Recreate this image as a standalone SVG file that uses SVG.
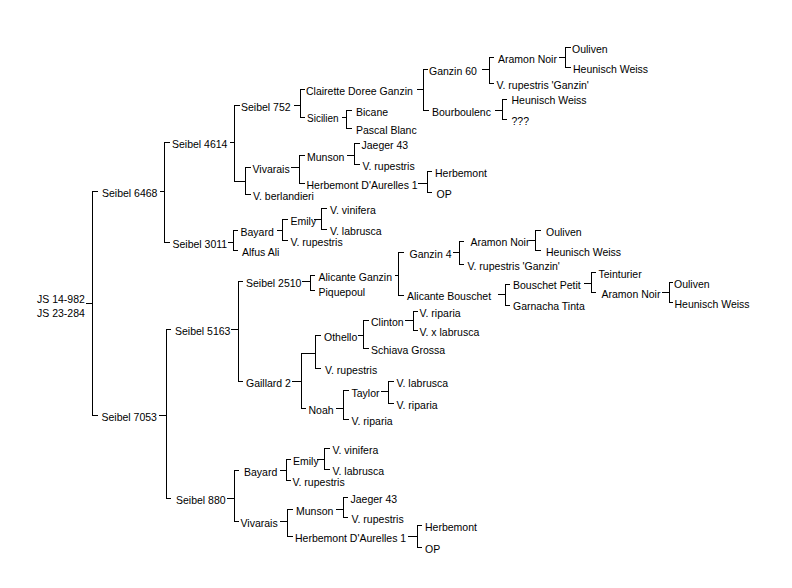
<svg xmlns="http://www.w3.org/2000/svg" width="792" height="588" viewBox="0 0 792 588">
<style>
text{font-family:"Liberation Sans",Arial,sans-serif;font-size:10.5px;fill:#000}
text.s{font-size:10px}
#connectors path{fill:none;stroke:#000;stroke-width:1;shape-rendering:crispEdges}
</style>
<rect width="792" height="588" fill="#fff"/>
<g id="connectors">
<path d="M86,303.5H93M92.5,191V416M92,191.5H98M92,415.5H98"/>
<path d="M160,191.5H165M164.5,142V243M164,142.5H170M164,242.5H170"/>
<path d="M230,142.5H235M234.5,105V182M234,105.5H240M234,181.5H246"/>
<path d="M245.5,167V195M245,167.5H251M245,194.5H251"/>
<path d="M294,105.5H301M300.5,89V118M300,89.5H305M300,117.5H305"/>
<path d="M417,89.5H424M423.5,69V111M423,69.5H428M423,110.5H429"/>
<path d="M482,69.5H490M489.5,57V84M489,57.5H494M489,83.5H494"/>
<path d="M559,57.5H566M565.5,47V68M565,47.5H571M565,67.5H571"/>
<path d="M495,110.5H503M502.5,99V120M502,99.5H507M502,119.5H507"/>
<path d="M342,117.5H347M346.5,110V129M346,110.5H352M346,128.5H352"/>
<path d="M291,167.5H300M299.5,155V184M299,155.5H305M299,183.5H305"/>
<path d="M347,155.5H355M354.5,143V165M354,143.5H360M354,164.5H360"/>
<path d="M418,183.5H428M427.5,171V193M427,171.5H432M427,192.5H432"/>
<path d="M228,242.5H234M233.5,230V251M233,230.5H238M233,250.5H238"/>
<path d="M277,230.5H283M282.5,219V241M282,219.5H288M282,240.5H288"/>
<path d="M314,219.5H322M321.5,208V230M321,208.5H327M321,229.5H327"/>
<path d="M159,415.5H167M166.5,329V499M166,329.5H171M166,498.5H171"/>
<path d="M231,329.5H239M238.5,281V382M238,281.5H243M238,381.5H243"/>
<path d="M302,281.5H311M310.5,275V291M310,275.5H315M310,290.5H315"/>
<path d="M395,275.5H399M398.5,252V296M398,252.5H404M398,295.5H404"/>
<path d="M453,252.5H460M459.5,241V265M459,241.5H464M459,264.5H464"/>
<path d="M529,240.5H536M535.5,230V251M535,230.5H541M535,250.5H541"/>
<path d="M498,294.5H506M505.5,284V306M505,284.5H510M505,305.5H510"/>
<path d="M584,283.5H592M591.5,272V293M591,272.5H596M591,292.5H596"/>
<path d="M662,292.5H670M669.5,282V303M669,282.5H673M669,302.5H673"/>
<path d="M292,381.5H302M301.5,353V409M301,353.5H316M301,408.5H306"/>
<path d="M315.5,335V369M315,335.5H321M315,368.5H321"/>
<path d="M358,335.5H364M363.5,320V349M363,320.5H369M363,348.5H369"/>
<path d="M405,320.5H414M413.5,311V331M413,311.5H418M413,330.5H418"/>
<path d="M336,408.5H344M343.5,390V420M343,390.5H349M343,419.5H349"/>
<path d="M381,391.5H389M388.5,381V404M388,381.5H394M388,403.5H394"/>
<path d="M227,498.5H235M234.5,470V522M234,470.5H239M234,521.5H239"/>
<path d="M280,470.5H287M286.5,459V481M286,459.5H291M286,480.5H291"/>
<path d="M317,459.5H325M324.5,448V470M324,448.5H330M324,469.5H330"/>
<path d="M280,521.5H288M287.5,509V537M287,509.5H293M287,536.5H293"/>
<path d="M336,509.5H344M343.5,497V518M343,497.5H348M343,517.5H348"/>
<path d="M408,536.5H418M417.5,525V548M417,525.5H422M417,547.5H422"/>
</g>
<g id="n-root"><text x="37" y="303">JS 14-982</text><text x="37" y="316.5">JS 23-284</text></g>
<g id="n-s6468"><text x="102" y="196.5">Seibel 6468</text></g>
<g id="n-s4614"><text x="172" y="147.5">Seibel 4614</text></g>
<g id="n-s752"><text x="241" y="110.5">Seibel 752</text></g>
<g id="n-cdg"><text x="306" y="94.5">Clairette Doree Ganzin</text></g>
<g id="n-g60"><text x="429" y="74.5">Ganzin 60</text></g>
<g id="n-an1"><text x="498" y="62.5">Aramon Noir</text></g>
<g id="n-ou1"><text x="572" y="52.5">Ouliven</text></g>
<g id="n-hw1"><text x="573" y="72.5">Heunisch Weiss</text></g>
<g id="n-vrg1"><text x="496.5" y="88.5">V. rupestris 'Ganzin'</text></g>
<g id="n-bourb"><text x="432" y="115.5">Bourboulenc</text></g>
<g id="n-hw2"><text x="511.5" y="103.5">Heunisch Weiss</text></g>
<g id="n-q"><text x="511.5" y="124.5">???</text></g>
<g id="n-sic"><text class="s" x="307" y="122">Sicilien</text></g>
<g id="n-bic"><text x="356" y="115.5">Bicane</text></g>
<g id="n-pb"><text x="356" y="133.5">Pascal Blanc</text></g>
<g id="n-viv1"><text x="252.5" y="172.5">Vivarais</text></g>
<g id="n-mun1"><text x="307" y="160.5">Munson</text></g>
<g id="n-j431"><text x="361.5" y="148.5">Jaeger 43</text></g>
<g id="n-vr1"><text x="362.5" y="169.5">V. rupestris</text></g>
<g id="n-hda1"><text x="306.5" y="188.5">Herbemont D'Aurelles 1</text></g>
<g id="n-hb1"><text x="435" y="176.5">Herbemont</text></g>
<g id="n-op1"><text x="436.5" y="197.5">OP</text></g>
<g id="n-vb"><text x="253" y="199.5">V. berlandieri</text></g>
<g id="n-s3011"><text x="172.5" y="247.5">Seibel 3011</text></g>
<g id="n-bay1"><text x="240.5" y="235.5">Bayard</text></g>
<g id="n-em1"><text x="290.5" y="224.5">Emily</text></g>
<g id="n-vv1"><text x="330" y="213.5">V. vinifera</text></g>
<g id="n-vl1"><text x="330" y="234.5">V. labrusca</text></g>
<g id="n-vr2"><text x="290.5" y="245.5">V. rupestris</text></g>
<g id="n-aa"><text x="242" y="255.5">Alfus Ali</text></g>
<g id="n-s7053"><text x="101.5" y="420.5">Seibel 7053</text></g>
<g id="n-s5163"><text x="175" y="334.5">Seibel 5163</text></g>
<g id="n-s2510"><text x="246" y="286.5">Seibel 2510</text></g>
<g id="n-ag"><text x="318.5" y="280.5">Alicante Ganzin</text></g>
<g id="n-g4"><text x="409.5" y="257.5">Ganzin 4</text></g>
<g id="n-an2"><text x="470.5" y="245.5">Aramon Noir</text></g>
<g id="n-ou2"><text x="546" y="235.5">Ouliven</text></g>
<g id="n-hw3"><text x="546" y="255.5">Heunisch Weiss</text></g>
<g id="n-vrg2"><text x="467.5" y="269.5">V. rupestris 'Ganzin'</text></g>
<g id="n-ab"><text x="407" y="299.5">Alicante Bouschet</text></g>
<g id="n-bp"><text x="513" y="288.5">Bouschet Petit</text></g>
<g id="n-tein"><text x="598.5" y="277.5">Teinturier</text></g>
<g id="n-an3"><text x="601.5" y="297.5">Aramon Noir</text></g>
<g id="n-ou3"><text x="674" y="287.5">Ouliven</text></g>
<g id="n-hw4"><text x="674.5" y="307.5">Heunisch Weiss</text></g>
<g id="n-gt"><text x="513" y="309.5">Garnacha Tinta</text></g>
<g id="n-pq"><text x="318.5" y="295.5">Piquepoul</text></g>
<g id="n-g2"><text x="246" y="386.5">Gaillard 2</text></g>
<g id="n-oth"><text x="324" y="340.5">Othello</text></g>
<g id="n-cli"><text x="371" y="325.5">Clinton</text></g>
<g id="n-vrp1"><text x="419.5" y="316.5">V. riparia</text></g>
<g id="n-vxl"><text x="419.5" y="335.5">V. x labrusca</text></g>
<g id="n-sg"><text x="371" y="353.5">Schiava Grossa</text></g>
<g id="n-vr3"><text x="325" y="373.5">V. rupestris</text></g>
<g id="n-noah"><text x="308.5" y="413.5">Noah</text></g>
<g id="n-tay"><text x="351.5" y="396.5">Taylor</text></g>
<g id="n-vl2"><text x="396.5" y="386.5">V. labrusca</text></g>
<g id="n-vrp2"><text x="396.5" y="408.5">V. riparia</text></g>
<g id="n-vrp3"><text x="351.5" y="424.5">V. riparia</text></g>
<g id="n-s880"><text x="176" y="503.5">Seibel 880</text></g>
<g id="n-bay2"><text x="244" y="475.5">Bayard</text></g>
<g id="n-em2"><text x="293" y="464.5">Emily</text></g>
<g id="n-vv2"><text x="332.5" y="453.5">V. vinifera</text></g>
<g id="n-vl3"><text x="332.5" y="474.5">V. labrusca</text></g>
<g id="n-vr4"><text x="292.5" y="485.5">V. rupestris</text></g>
<g id="n-viv2"><text x="240.5" y="526.5">Vivarais</text></g>
<g id="n-mun2"><text x="296" y="514.5">Munson</text></g>
<g id="n-j432"><text x="350.5" y="502.5">Jaeger 43</text></g>
<g id="n-vr5"><text x="351.5" y="522.5">V. rupestris</text></g>
<g id="n-hda2"><text x="295" y="541.5">Herbemont D'Aurelles 1</text></g>
<g id="n-hb2"><text x="425" y="530.5">Herbemont</text></g>
<g id="n-op2"><text x="425" y="552.5">OP</text></g>
</svg>
